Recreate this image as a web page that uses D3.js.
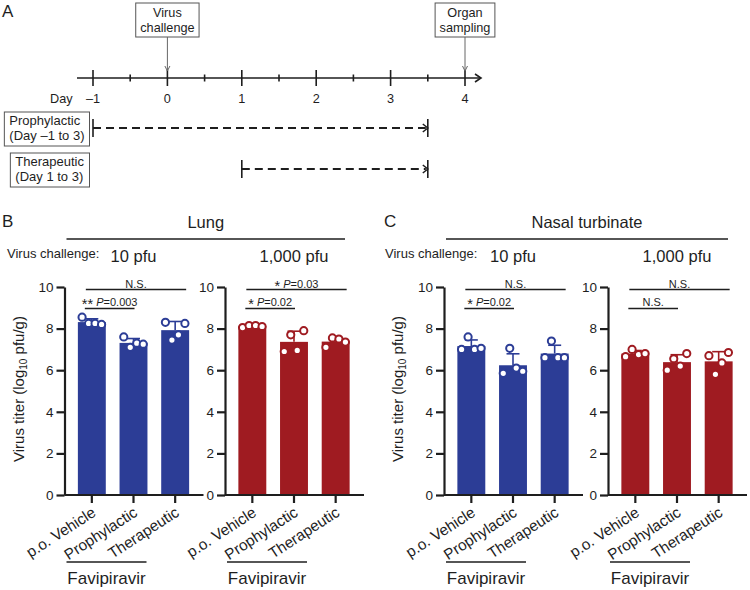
<!DOCTYPE html>
<html>
<head>
<meta charset="utf-8">
<script src="https://cdn.jsdelivr.net/npm/d3@7"></script>
<style>
body { margin: 0; background: #fff; }
svg { font-family: "Liberation Sans", Arial, sans-serif; }
</style>
</head>
<body>
<script>
var width = 750;
var height = 590;

// ---- timeline (panel A) ----
var dayTicks = [-1, 0, 1, 2, 3, 4];
var eventNames = [["Virus", "challenge"], ["Organ", "sampling"]];
var eventDays = [0, 4];
var regimenNames = [["Prophylactic", "(Day \u20131 to 3)"], ["Therapeutic", "(Day 1 to 3)"]];
var regimenStart = [-1, 1];
var regimenEnd = [3.5, 3.5];

// ---- bar charts (panels B, C) ----
var groups = ["p.o. Vehicle", "Prophylactic", "Therapeutic"];
var lung10 = [[8.55, 8.25, 8.25, 8.2], [7.6, 7.1, 7.3, 7.25], [8.3, 7.45, 7.7, 8.25]];
var lung1000 = [[8.05, 8.15, 8.15, 8.1], [6.9, 7.7, 6.95, 7.9], [7.1, 7.55, 7.5, 7.35]];
var nasal10 = [[7.0, 7.6, 7.0, 7.05], [5.85, 7.05, 6.1, 5.95], [6.6, 7.4, 6.6, 6.6]];
var nasal1000 = [[6.65, 7.0, 6.75, 6.8], [6.0, 6.55, 6.2, 6.8], [6.7, 5.8, 6.35, 6.85]];
var yTicks = [0, 2, 4, 6, 8, 10];
var doses = ["10 pfu", "1,000 pfu"];
var organs = ["Lung", "Nasal turbinate"];
var panelLetters = ["B", "C"];
// long bracket (vehicle vs therapeutic), short bracket (vehicle vs prophylactic)
var sigLong = ["N.S.", "*|0.03", "N.S.", "N.S."];
var sigShort = ["**|0.003", "*|0.02", "*|0.02", "N.S."];

var blue = "#2c3d96";
var red = "#9f1b21";
var ink = "#1e1e1e";

var svg = d3.select("body").append("svg").attr("width", width).attr("height", height);

// ================= Panel A =================
svg.append("text").attr("x", 2).attr("y", 17).attr("font-size", 17).attr("fill", ink).text("A");

var xDay = d3.scaleLinear().domain([-1, 4]).range([93, 465]);
var axisY = 78;
var tl = svg.append("g").attr("stroke", ink).attr("fill", "none");

tl.append("line").attr("x1", xDay(-1) - 16).attr("x2", xDay(4) + 16)
    .attr("y1", axisY).attr("y2", axisY).attr("stroke-width", 1.6);
tl.append("path").attr("d", "M" + (xDay(4) + 10) + "," + (axisY - 4) + "L" + (xDay(4) + 16) + "," + axisY + "L" + (xDay(4) + 10) + "," + (axisY + 4))
    .attr("stroke-width", 1.6);

tl.selectAll("line.major").data(dayTicks).enter().append("line").attr("class", "major")
    .attr("x1", function(d){ return xDay(d); }).attr("x2", function(d){ return xDay(d); })
    .attr("y1", axisY - 8).attr("y2", axisY + 8).attr("stroke-width", 1.6);
tl.selectAll("line.minor").data(d3.range(-0.5, 4, 1)).enter().append("line").attr("class", "minor")
    .attr("x1", function(d){ return xDay(d); }).attr("x2", function(d){ return xDay(d); })
    .attr("y1", axisY - 3.5).attr("y2", axisY + 3.5).attr("stroke-width", 1.6);

svg.append("text").attr("x", 50).attr("y", 103).attr("font-size", 12.7).attr("fill", ink).text("Day");
svg.selectAll("text.day").data(dayTicks).enter().append("text").attr("class", "day")
    .attr("x", function(d){ return xDay(d); }).attr("y", 103)
    .attr("text-anchor", "middle").attr("font-size", 12.7).attr("fill", ink)
    .text(function(d){ return d < 0 ? "\u2013" + (-d) : d; });

// event boxes
eventNames.forEach(function(lines, i) {
    var cx = xDay(eventDays[i]);
    var g = svg.append("g");
    var t = g.append("text").attr("text-anchor", "middle").attr("font-size", 12.7).attr("fill", ink);
    t.append("tspan").attr("x", cx).attr("y", 17).text(lines[0]);
    t.append("tspan").attr("x", cx).attr("y", 31.5).text(lines[1]);
    var w = t.node().getBBox().width + 9;
    g.insert("rect", "text").attr("x", cx - w / 2).attr("y", 3).attr("width", w).attr("height", 34)
        .attr("fill", "#fff").attr("stroke", "#555").attr("stroke-width", 1);
    g.append("line").attr("x1", cx).attr("x2", cx).attr("y1", 37).attr("y2", 70)
        .attr("stroke", "#666").attr("stroke-width", 1);
    g.append("path").attr("d", "M" + (cx - 2.5) + ",66L" + cx + ",71L" + (cx + 2.5) + ",66")
        .attr("fill", "none").attr("stroke", "#666").attr("stroke-width", 1);
});

// regimens
var regY = [128, 169];
regimenNames.forEach(function(lines, i) {
    var y = regY[i];
    var g = svg.append("g");
    var t = g.append("text").attr("font-size", 13).attr("fill", ink);
    t.append("tspan").attr("x", 0).attr("y", y - 3).text(lines[0]);
    t.append("tspan").attr("x", 0).attr("y", y + 12).text(lines[1]);
    var w = t.node().getBBox().width + 10;
    var x0 = 89.5 - w;
    t.selectAll("tspan").attr("x", x0 + 5);
    g.insert("rect", "text").attr("x", x0).attr("y", y - 16).attr("width", w).attr("height", 34)
        .attr("fill", "#fff").attr("stroke", "#555").attr("stroke-width", 1);

    var xs = xDay(regimenStart[i]), xe = xDay(regimenEnd[i]);
    g.append("line").attr("x1", xs).attr("x2", xe - 2).attr("y1", y).attr("y2", y)
        .attr("stroke", ink).attr("stroke-width", 1.8).attr("stroke-dasharray", "8,5");
    g.append("line").attr("x1", xs).attr("x2", xs).attr("y1", y - 9).attr("y2", y + 9)
        .attr("stroke", ink).attr("stroke-width", 1.6);
    g.append("line").attr("x1", xe).attr("x2", xe).attr("y1", y - 9).attr("y2", y + 9)
        .attr("stroke", ink).attr("stroke-width", 1.6);
    g.append("path").attr("d", "M" + (xe - 5) + "," + (y - 4) + "L" + xe + "," + y + "L" + (xe - 5) + "," + (y + 4))
        .attr("fill", "none").attr("stroke", ink).attr("stroke-width", 1.5);
});

// ================= Panels B, C =================
var y = d3.scaleLinear().domain([0, 10]).range([495, 287]);
var axisXs = [64.5, 225, 444, 608];
var charts = [
    { data: lung10, color: blue },
    { data: lung1000, color: red },
    { data: nasal10, color: blue },
    { data: nasal1000, color: red }
];

function sigText(sel, s) {
    if (s.indexOf("|") < 0) { sel.text(s); return; }
    var p = s.split("|");
    sel.append("tspan").attr("font-size", 14.5).attr("dy", 3).text(p[0]);
    sel.append("tspan").attr("dy", -3).text(" ");
    sel.append("tspan").attr("font-style", "italic").text("P");
    sel.append("tspan").text("=" + p[1]);
}

charts.forEach(function(c, k) {
    var ax = axisXs[k];
    var x = d3.scaleBand().domain(groups).range([ax + 6.5, ax + 131.5]).paddingInner(0.33).paddingOuter(0.165);
    var g = svg.append("g");
    var cx = function(d){ return x(d) + x.bandwidth() / 2; };

    var stats = c.data.map(function(v, i) {
        return { name: groups[i], vals: v, mean: d3.mean(v), sd: d3.deviation(v) };
    });

    // bars
    g.selectAll("rect.bar").data(stats).enter().append("rect").attr("class", "bar")
        .attr("x", function(d){ return x(d.name); }).attr("width", x.bandwidth())
        .attr("y", function(d){ return y(d.mean); })
        .attr("height", function(d){ return y(0) - y(d.mean); })
        .attr("fill", c.color);

    // error bars (upper)
    var eb = g.selectAll("g.eb").data(stats).enter().append("g")
        .attr("stroke", c.color).attr("stroke-width", 1.6);
    eb.append("line").attr("x1", function(d){ return cx(d.name); }).attr("x2", function(d){ return cx(d.name); })
        .attr("y1", function(d){ return y(d.mean); }).attr("y2", function(d){ return y(d.mean + d.sd); });
    eb.append("line").attr("x1", function(d){ return cx(d.name) - 6.5; }).attr("x2", function(d){ return cx(d.name) + 6.5; })
        .attr("y1", function(d){ return y(d.mean + d.sd); }).attr("y2", function(d){ return y(d.mean + d.sd); });

    // points
    stats.forEach(function(s) {
        g.selectAll(null).data(s.vals).enter().append("circle")
            .attr("cx", function(v, i){ return cx(s.name) + (i - 1.5) * 6.5; })
            .attr("cy", function(v){ return y(v); })
            .attr("r", 3.6).attr("fill", "#fff").attr("stroke", c.color).attr("stroke-width", 2);
    });

    // y axis
    var yAxis = g.append("g").attr("transform", "translate(" + ax + ",0)")
        .call(d3.axisLeft(y).tickValues(yTicks).tickSize(8).tickSizeOuter(0).tickPadding(3));
    yAxis.selectAll("path,line").attr("stroke", ink).attr("stroke-width", 2.2);
    yAxis.selectAll("text").attr("font-size", 13.5).attr("fill", ink).attr("font-family", null);

    // x axis
    g.append("line").attr("x1", ax).attr("x2", ax + 139).attr("y1", y(0)).attr("y2", y(0))
        .attr("stroke", ink).attr("stroke-width", 2.2);
    g.selectAll("line.xt").data(groups).enter().append("line").attr("class", "xt")
        .attr("x1", cx).attr("x2", cx).attr("y1", y(0)).attr("y2", y(0) + 8)
        .attr("stroke", ink).attr("stroke-width", 2.2);
    g.selectAll("text.xl").data(groups).enter().append("text").attr("class", "xl")
        .attr("transform", function(d){ return "translate(" + (cx(d) + 5) + "," + 515 + ") rotate(-33)"; })
        .attr("text-anchor", "end").attr("font-size", 15.3).attr("fill", ink)
        .text(function(d){ return d; });

    // Favipiravir bracket
    var c2 = cx(groups[1]);
    g.append("line").attr("x1", c2 - 67).attr("x2", c2 + 13).attr("y1", 562).attr("y2", 562)
        .attr("stroke", ink).attr("stroke-width", 1.4);
    g.append("text").attr("x", c2 - 27).attr("y", 584).attr("text-anchor", "middle")
        .attr("font-size", 17).attr("fill", ink).text("Favipiravir");

    // dose label
    g.append("text").attr("x", c2).attr("y", 261.5).attr("text-anchor", "middle")
        .attr("font-size", 16.5).attr("fill", ink).text(doses[k % 2]);

    // significance brackets
    var c1 = cx(groups[0]), c3 = cx(groups[2]);
    g.append("line").attr("x1", c1 - 6).attr("x2", c3 + 11).attr("y1", 289.5).attr("y2", 289.5)
        .attr("stroke", ink).attr("stroke-width", 1.3);
    sigText(g.append("text").attr("x", (c1 + c3 + 5) / 2).attr("y", 287.5).attr("text-anchor", "middle")
        .attr("font-size", 11).attr("fill", ink), sigLong[k]);
    g.append("line").attr("x1", c1 - 7).attr("x2", c2 + 1).attr("y1", 308.5).attr("y2", 308.5)
        .attr("stroke", ink).attr("stroke-width", 1.3);
    sigText(g.append("text").attr("x", (c1 + c2 - 6) / 2).attr("y", 305.5).attr("text-anchor", "middle")
        .attr("font-size", 11).attr("fill", ink), sigShort[k]);
});

// panel headers
var panelX = [2, 384];
[0, 1].forEach(function(p) {
    var left = axisXs[p * 2], right = axisXs[p * 2 + 1];
    svg.append("text").attr("x", panelX[p]).attr("y", 227).attr("font-size", 17).attr("fill", ink).text(panelLetters[p]);
    svg.append("line").attr("x1", left + 2).attr("x2", right + 120).attr("y1", 239).attr("y2", 239)
        .attr("stroke", ink).attr("stroke-width", 1.4);
    svg.append("text").attr("x", (left + right + 122) / 2).attr("y", 228).attr("text-anchor", "middle")
        .attr("font-size", 16.5).attr("fill", ink).text(organs[p]);
    svg.append("text").attr("x", panelX[p] + (p === 0 ? 5 : 1)).attr("y", 258).attr("font-size", 13)
        .attr("fill", ink).text("Virus challenge:");
    var yl = svg.append("text").attr("transform", "translate(" + (left - 41) + ",389) rotate(-90)")
        .attr("text-anchor", "middle").attr("font-size", 15).attr("fill", ink);
    yl.append("tspan").text("Virus titer (log");
    yl.append("tspan").attr("font-size", 10).attr("dy", 3).text("10");
    yl.append("tspan").attr("dy", -3).text(" pfu/g)");
});
</script>
</body>
</html>
